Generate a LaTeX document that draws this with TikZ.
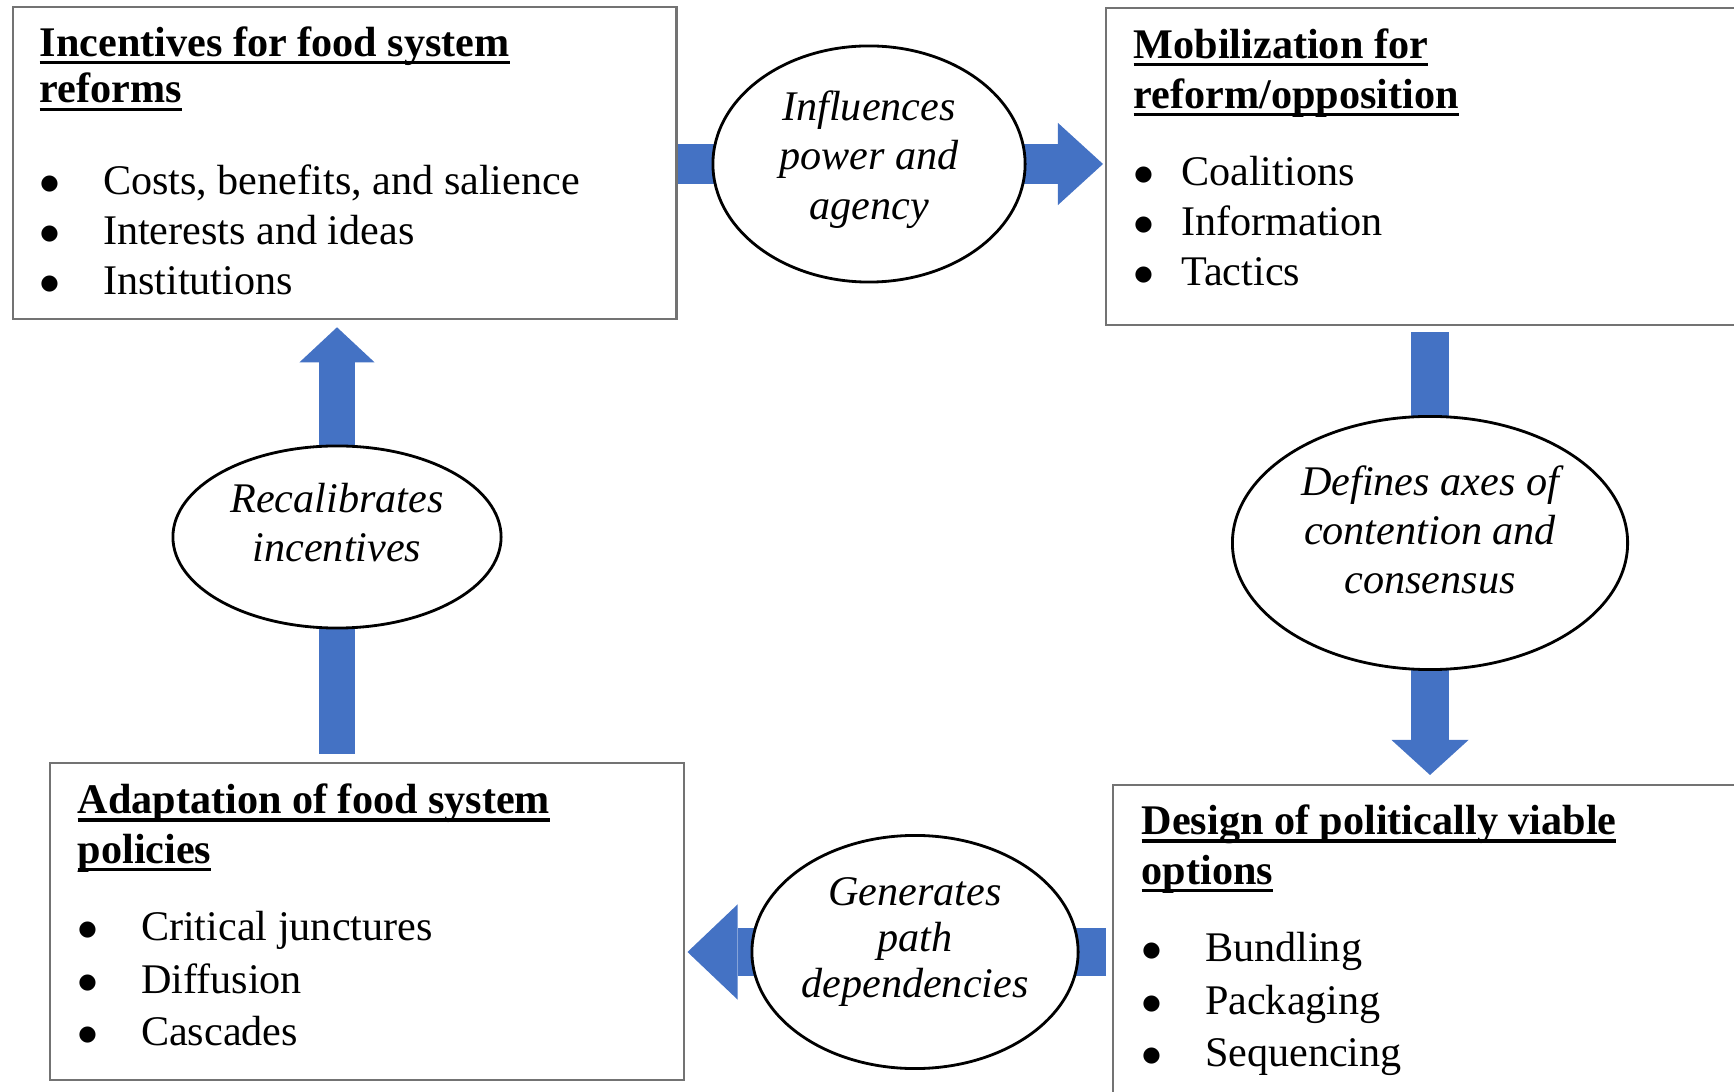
\documentclass[tikz,border=0pt]{standalone}
\usepackage{fontspec}
\setmainfont{Liberation Serif}
\newfontfamily\dotfont{DejaVu Sans}
\usetikzlibrary{arrows.meta,shapes.geometric}

\definecolor{arrowblue}{HTML}{4472C4}
\newcommand{\hd}[1]{\setbox0\hbox{\textbf{#1}}\rlap{\rule[-2.3pt]{\wd0}{0.9pt}}\box0}
\newcommand{\blt}[2][18pt]{\makebox[#1][l]{\hspace{0.2pt}\smash{\raisebox{1.4pt}{\dotfont\fontsize{6}{6}\selectfont ●}}}#2}
\pgfdeclarelayer{back}
\pgfsetlayers{back,main}

\begin{document}
\begin{tikzpicture}[x=0.01cm, y=-0.01cm,
  frame/.style = {draw=black!55, line width=0.6pt, fill=white,
    inner sep=0pt, anchor=north west},
  txt/.style = {align=left, inner sep=0pt, anchor=north west,
    font=\fontsize{12}{14.2}\selectfont},
  oval/.style = {ellipse, draw, line width=0.8pt, fill=white, inner sep=0pt},
  otxt/.style = {align=center, inner sep=0pt,
    font=\fontsize{12}{14}\selectfont\itshape},
  flow/.style n args = {3}{draw=arrowblue, line width=#1,
    -{Triangle[length=#2, width=#3, line width=0pt]}}]

  \useasboundingbox (0,0) rectangle (1734,1092);
  \clip (0,0) rectangle (1734,1092);

  \node[frame, minimum width=6.63cm, minimum height=3.12cm] (inc) at (12,6) {};
  \node[frame, minimum width=6.60cm, minimum height=3.17cm] (mob) at (1105,7) {};
  \node[frame, minimum width=6.60cm, minimum height=3.30cm] (des) at (1112,784) {};
  \node[frame, minimum width=6.34cm, minimum height=3.17cm] (adp) at (49,762) {};

  \node[txt] (inctxt) at ([shift={(27,20)}]inc.north west)
    {\hd{Incentives for food system}\\[-1pt] \hd{reforms}\\[11.8pt]
     \blt{Costs, benefits, and salience}\\ \blt{Interests and ideas}\\
     \blt{Institutions}};
  \node[txt] (mobtxt) at ([shift={(28,21)}]mob.north west)
    {\hd{Mobilization for}\\ \hd{reform/opposition}\\[7.8pt]
     \blt[13.5pt]{Coalitions}\\ \blt[13.5pt]{Information}\\
     \blt[13.5pt]{Tactics}};
  \node[txt] (destxt) at ([shift={(29,20)}]des.north west)
    {\hd{Design of politically viable}\\ \hd{options}\\[7.8pt]
     \blt{Bundling}\\[0.7pt] \blt{Packaging}\\[0.7pt] \blt{Sequencing}};
  \node[txt] (adptxt) at ([shift={(28,21)}]adp.north west)
    {\hd{Adaptation of food system}\\ \hd{policies}\\[7.8pt]
     \blt{Critical junctures}\\[0.7pt] \blt{Diffusion}\\[0.7pt] \blt{Cascades}};

  \node[oval, minimum width=3.12cm, minimum height=2.36cm] (infl) at (869,164) {};
  \node[oval, minimum width=3.95cm, minimum height=2.53cm] (defn) at (1430,543) {};
  \node[oval, minimum width=3.26cm, minimum height=2.33cm] (gen) at (915,952) {};
  \node[oval, minimum width=3.28cm, minimum height=1.82cm] (recal) at (337,537) {};

  \node[otxt] (infltxt) at ([yshift=0.45mm]infl) {Influences\\ power and\\ agency};
  \node[otxt] (defntxt) at ([yshift=1.3mm]defn) {Defines axes of\\ contention and\\ consensus};
  \node[otxt] (gentxt) at ([yshift=1mm]gen) {Generates\\[-0.9pt] path\\[-0.9pt] dependencies};
  \node[otxt] (recaltxt) at ([yshift=1.45mm]recal) {Recalibrates\\ incentives};

  \begin{pgfonlayer}{back}
    \draw[flow={0.40cm}{0.45cm}{0.82cm}] (inc.east |- infl) -- ([xshift=-0.2mm]mob.west |- infl);
    \draw[flow={0.38cm}{0.35cm}{0.77cm}] ([yshift=-0.6mm]mob.south -| defn) -- ([yshift=0.9mm]des.north -| defn);
    \draw[flow={0.47cm}{0.50cm}{0.95cm}] ([xshift=-0.6mm]des.west |- gen) -- ([xshift=0.2mm]adp.east |- gen);
    \draw[flow={0.36cm}{0.35cm}{0.75cm}] ([yshift=0.8mm]adp.north -| recal) -- ([yshift=-0.7mm]inc.south -| recal);
  \end{pgfonlayer}
\end{tikzpicture}
\end{document}
